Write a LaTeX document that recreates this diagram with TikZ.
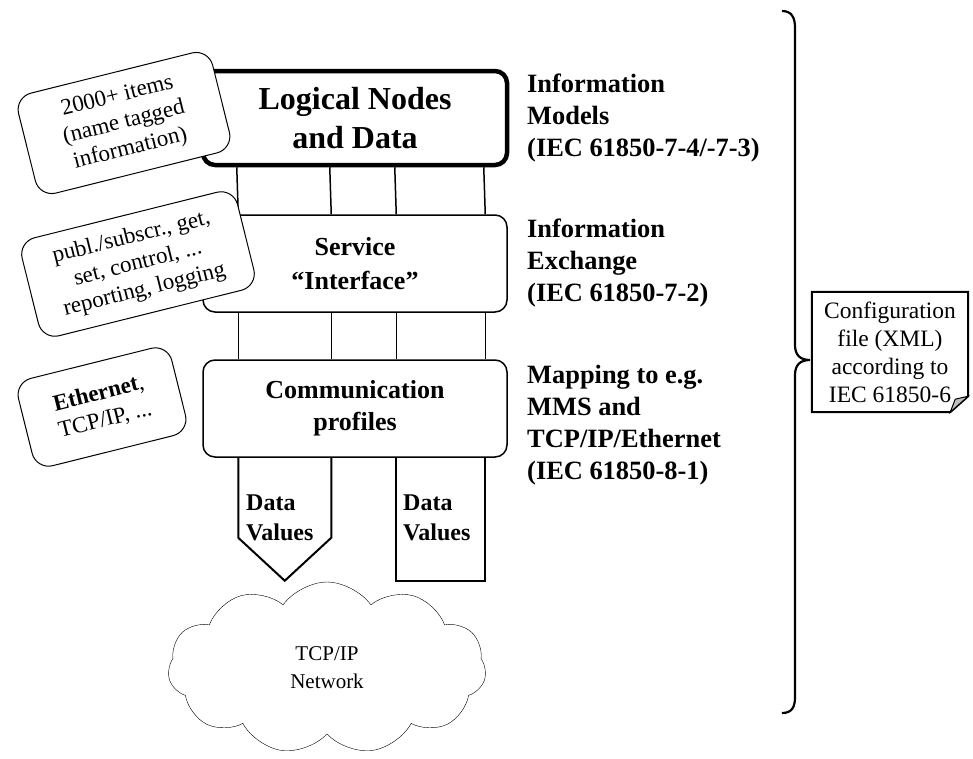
\documentclass[tikz,border=0pt]{standalone}
\usepackage{fontspec}
\setmainfont{Liberation Serif}
\usetikzlibrary{shapes.symbols}

\begin{document}
\begin{tikzpicture}[x=1pt, y=-1pt,
        layer/.style={rectangle, draw, fill=white, rounded corners=12pt, minimum width=304pt, minimum height=97pt, align=center, line width=1.5pt, font=\bfseries\fontsize{26}{32}\selectfont},
        callout/.style={rectangle, draw, fill=white, rounded corners=17pt, rotate=14, align=center, line width=1pt, inner sep=0pt, font=\fontsize{23}{27}\selectfont},
        stdlabel/.style={anchor=west, align=left, inner sep=0pt, font=\bfseries\fontsize{26.4}{32}\selectfont},
        dvtext/.style={anchor=west, align=left, inner sep=0pt, font=\bfseries\fontsize{24}{30}\selectfont},
        link/.style={line width=1.5pt},
        datapath/.style={line width=2pt}
    ]
    \useasboundingbox (0,0) rectangle (973,758);

    % Layers
    \node[layer, line width=4.5pt, minimum height=94pt, font=\bfseries\fontsize{32}{39}\selectfont] (ln) at (355,118) {Logical Nodes\\and Data};
    \node[layer, font=\bfseries\fontsize{26}{34}\selectfont] (si) at (355,263.5) {Service\\“Interface”};
    \node[layer] (cp) at (355,408.5) {Communication\\profiles};

    \foreach \dx in {36,129,194,283} {
        \draw[link] ([xshift=\dx pt]ln.south west) -- ([xshift=\dx pt]si.north west);
        \draw[link] ([xshift=\dx pt]si.south west) -- ([xshift=\dx pt]cp.north west);
    }

    % Data values
    \draw[datapath] ([xshift=36pt]cp.south west) -- ++(0,80) -- ++(46.5,43) -- ++(46.5,-43) -- ++(0,-80);
    \draw[datapath] ([xshift=194pt]cp.south west) -- ++(0,123) -- ++(89,0) -- ++(0,-123);
    \node[dvtext] (dv1) at (246,518) {Data\\Values};
    \node[dvtext] (dv2) at (403,518) {Data\\Values};

    % Network
    \node[cloud, draw, cloud puffs=11, cloud puff arc=110, aspect=1.85, minimum width=318pt, minimum height=172pt, align=center, font=\fontsize{21}{28}\selectfont] (net) at (327,668) {TCP/IP\\Network};

    % Callouts
    \node[callout, minimum width=200pt, minimum height=103pt] (items) at (124,123) {2000+ items\\(name tagged\\information)};
    \node[callout, minimum width=222pt, minimum height=101pt] (services) at (138,264) {publ./subscr., get,\\set, control, ...\\reporting, logging};
    \node[callout, minimum width=158pt, minimum height=90pt] (ether) at (102,407) {\textbf{Ethernet},\\TCP/IP, ...};

    % Standards
    \node[stdlabel] (models) at (527,118) {Information\\Models\\(IEC 61850-7-4/-7-3)};
    \node[stdlabel] (exchange) at (527,263) {Information\\Exchange\\(IEC 61850-7-2)};
    \node[stdlabel] (mapping) at (527,425) {Mapping to e.g.\\MMS and\\TCP/IP/Ethernet\\(IEC 61850-8-1)};

    % Configuration
    \draw[line width=2.2pt] (782,11) .. controls (792,11) and (795,18) .. (795,28) -- (795,345)
        .. controls (795,355) and (800,360) .. (810,360)
        .. controls (800,360) and (795,365) .. (795,375) -- (795,697)
        .. controls (795,707) and (792,713) .. (782,713);
    \node[minimum width=156pt, minimum height=120pt, align=center, font=\fontsize{23.5}{28}\selectfont] (cfg) at (890,352) {Configuration\\file (XML)\\according to\\IEC 61850-6};
    \draw[line width=2pt] (cfg.north west) -- (cfg.north east) -- ([yshift=16pt]cfg.south east) -- ([xshift=-18pt]cfg.south east) -- (cfg.south west) -- cycle;
    \filldraw[fill=gray!50, line width=1pt] ([xshift=-18pt]cfg.south east) -- ([yshift=16pt]cfg.south east) -- ([xshift=-13pt,yshift=13pt]cfg.south east) -- cycle;
\end{tikzpicture}
\end{document}
